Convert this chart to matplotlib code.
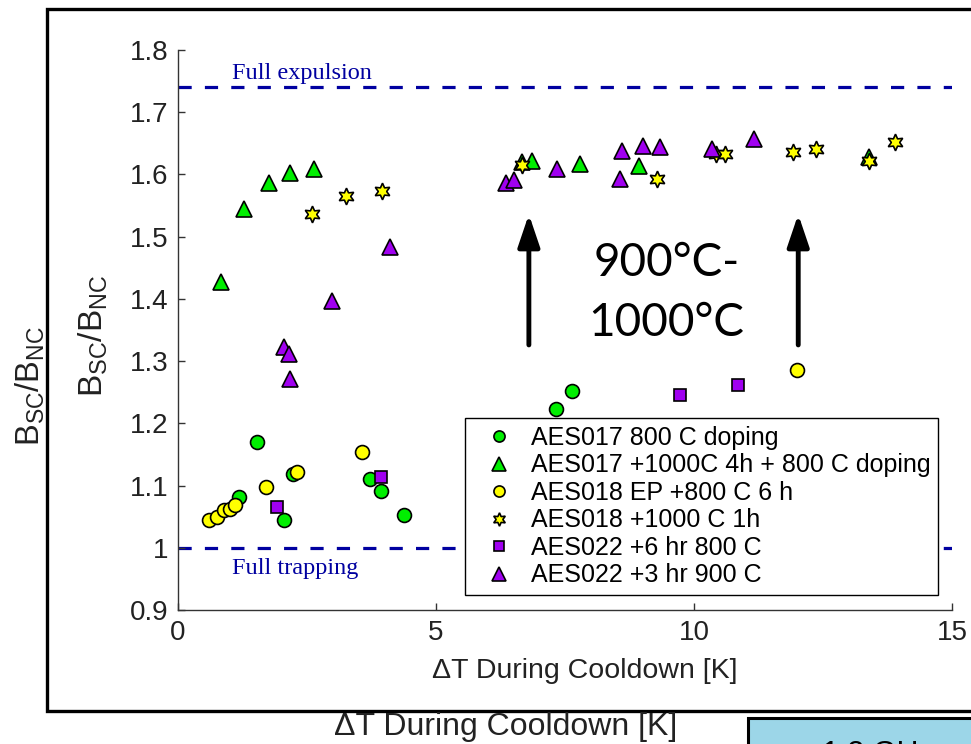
import matplotlib
matplotlib.use("Agg")
import matplotlib.pyplot as plt
from matplotlib.patches import Rectangle

plt.rcParams['font.family'] = ['Liberation Sans', 'DejaVu Sans']
plt.rcParams['mathtext.fontset'] = 'custom'
plt.rcParams['mathtext.rm'] = 'Liberation Sans'
plt.rcParams['lines.scale_dashes'] = False

# ---------------- data ----------------
aes017_800_x = [1.54, 1.19, 2.05, 2.22, 3.72, 3.93, 4.38, 7.32, 7.64, 7.90]
aes017_800_y = [1.170, 1.082, 1.044, 1.119, 1.111, 1.092, 1.052, 1.223, 1.252, 1.196]

aes017_1000_x = [0.83, 1.28, 1.76, 2.18, 2.64, 6.66, 6.87, 7.80, 8.93, 13.40]
aes017_1000_y = [1.427, 1.544, 1.587, 1.603, 1.608, 1.620, 1.622, 1.617, 1.614, 1.628]

aes018_800_x = [0.60, 0.75, 0.90, 1.01, 1.10, 1.70, 2.31, 3.57, 11.99]
aes018_800_y = [1.044, 1.049, 1.060, 1.063, 1.069, 1.098, 1.122, 1.154, 1.285]

aes018_1000_x = [2.60, 3.25, 3.95, 6.66, 9.28, 10.43, 10.61, 11.92, 12.37, 13.40, 13.89]
aes018_1000_y = [1.536, 1.565, 1.574, 1.615, 1.593, 1.633, 1.633, 1.636, 1.641, 1.622, 1.652]

aes022_800_x = [1.92, 3.93, 9.73, 10.86]
aes022_800_y = [1.066, 1.114, 1.246, 1.262]

aes022_900_x = [2.05, 2.15, 2.18, 2.99, 4.11, 6.35, 6.51, 7.34, 8.57, 8.60, 9.02, 9.35, 10.35, 11.16]
aes022_900_y = [1.322, 1.311, 1.271, 1.397, 1.483, 1.586, 1.591, 1.609, 1.593, 1.638, 1.646, 1.644, 1.641, 1.657]

series_labels = ["AES017 800 C doping", "AES017 +1000C 4h + 800 C doping",
                 "AES018 EP +800 C 6 h", "AES018 +1000 C 1h",
                 "AES022 +6 hr 800 C", "AES022 +3 hr 900 C"]

full_expulsion = 1.74
full_trapping = 1.0
arrow_x = [6.80, 12.02]
arrow_y0, arrow_y1 = 1.326, 1.536

x_ticks = [0, 5, 10, 15]
y_ticks = [0.9, 1.0, 1.1, 1.2, 1.3, 1.4, 1.5, 1.6, 1.7, 1.8]
y_ticklabels = ["0.9", "1", "1.1", "1.2", "1.3", "1.4", "1.5", "1.6", "1.7", "1.8"]

# ---------------- figure ----------------
W, H = 971, 744
fig = plt.figure(figsize=(W / 100, H / 100), dpi=100)

# background slide elements
fig.text(30 / W, 1 - 386 / H, r'B$_{\rm SC}$/B$_{\rm NC}$', rotation=90,
         ha='center', va='center', fontsize=23.5, color='#222222')
fig.text(506 / W, 1 - 727 / H, 'ΔT During Cooldown [K]', ha='center', va='center',
         fontsize=23, color='#222222')
fig.patches.append(Rectangle((748 / W, -0.1), 0.5, (1 - 718 / H) + 0.1,
                             transform=fig.transFigure, facecolor='#9cd6e8',
                             edgecolor='black', linewidth=2.2))
fig.text(822 / W, 1 - 740 / H, '1.3 GHz', ha='left', va='top', fontsize=22, color='black')

# white panel with black frame
fig.patches.append(Rectangle((47 / W, 1 - 711 / H), 1.0, (711 - 9) / H,
                             transform=fig.transFigure, facecolor='white',
                             edgecolor='black', linewidth=2.4, zorder=1))

ax = fig.add_axes([178 / W, 1 - 610 / H, (952 - 178) / W, (610 - 50) / H])
ax.set_zorder(2)
ax.patch.set_alpha(0)

ax.set_xlim(0, 15)
ax.set_ylim(0.9, 1.8)

dash_col = '#0000a0'
ax.plot([0, 15], [full_expulsion, full_expulsion], color=dash_col, lw=2.3,
        dashes=(9.5, 9.5), zorder=1)
ax.plot([0, 15], [full_trapping, full_trapping], color=dash_col, lw=2.3,
        dashes=(9.5, 9.5), zorder=1)
ax.text(1.05, 1.753, 'Full expulsion', family='Liberation Serif', fontsize=17.5,
        color=dash_col, ha='left', va='baseline')
ax.text(1.05, 0.958, 'Full trapping', family='Liberation Serif', fontsize=17.5,
        color=dash_col, ha='left', va='baseline')

green = '#00ee00'
yellow = '#ffff00'
purple = '#a000f0'
star = (6, 1, 0)
kw = dict(linestyle='none', markeredgecolor='black', markeredgewidth=1.2)

ax.plot(aes017_800_x, aes017_800_y, marker='o', ms=10, color=green, label=series_labels[0], **kw)
ax.plot(aes017_1000_x, aes017_1000_y, marker='^', ms=12, color=green, label=series_labels[1], **kw)
ax.plot(aes018_800_x, aes018_800_y, marker='o', ms=10, color=yellow, label=series_labels[2], **kw)
ax.plot(aes018_1000_x, aes018_1000_y, marker=star, ms=12, color=yellow, label=series_labels[3], **kw)
ax.plot(aes022_800_x, aes022_800_y, marker='s', ms=8.5, color=purple, label=series_labels[4], **kw)
ax.plot(aes022_900_x, aes022_900_y, marker='^', ms=12, color=purple, label=series_labels[5], **kw)

for xa in arrow_x:
    ax.annotate('', xy=(xa, arrow_y1), xytext=(xa, arrow_y0),
                arrowprops=dict(arrowstyle='-|>,head_length=0.65,head_width=0.22',
                                lw=3.5, color='black', mutation_scale=30,
                                shrinkA=0, shrinkB=0))

ax.text(9.47, 1.436, '900°C-', family=['Lato', 'DejaVu Sans'], fontsize=33,
        ha='center', va='baseline')
ax.text(9.47, 1.340, '1000°C', family=['Lato', 'DejaVu Sans'], fontsize=33,
        ha='center', va='baseline')

leg = ax.legend(loc='lower right', bbox_to_anchor=(0.982, 0.027), fontsize=18,
                frameon=True, fancybox=False, edgecolor='black', framealpha=1,
                markerscale=0.8, handlelength=2.1, handletextpad=0.22,
                borderpad=0.3, labelspacing=0.14, borderaxespad=0)
leg.get_frame().set_linewidth(1.0)
leg.set_zorder(10)

for s in ['top', 'right']:
    ax.spines[s].set_visible(False)
for s in ['left', 'bottom']:
    ax.spines[s].set_color('#333333')
    ax.spines[s].set_linewidth(1.0)

ax.set_xticks(x_ticks)
ax.set_yticks(y_ticks)
ax.set_yticklabels(y_ticklabels)
ax.tick_params(direction='in', length=5, width=1, colors='#333333',
               labelsize=20, labelcolor='#222222', pad=7)

ax.set_xlabel('ΔT During Cooldown [K]', fontsize=20.5, color='#222222')
ax.xaxis.set_label_coords(0.525, -0.086)
ax.set_ylabel(r'B$_{\rm SC}$/B$_{\rm NC}$', fontsize=24, color='#222222')
ax.yaxis.set_label_coords(-0.088, 0.49)

fig.savefig('out.png', dpi=100)
